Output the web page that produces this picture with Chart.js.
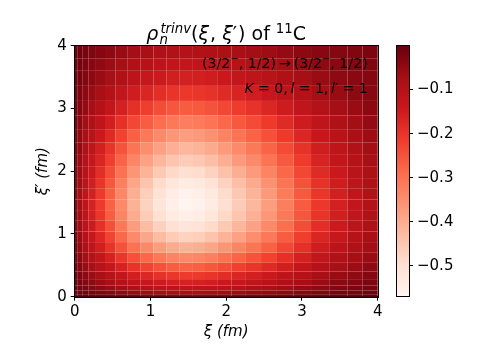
<!DOCTYPE html>
<html>
<head>
<meta charset="utf-8">
<script src="https://cdn.jsdelivr.net/npm/chart.js@4.4.1/dist/chart.umd.min.js"></script>
<style>
  body { margin: 0; background: #fff; }
  #wrap { position: relative; width: 477px; height: 358px; }
  #wrap canvas { position: absolute; top: 0; }
</style>
</head>
<body>
<div id="wrap">
  <canvas id="mapChart" width="477" height="358" style="left:0"></canvas>
  <canvas id="barChart" width="97" height="358" style="left:380px"></canvas>
</div>
<script>
// cell edges of the mesh (fm), denser near the origin
const xiEdges = [0, 0.04, 0.1, 0.18, 0.28, 0.4, 0.54, 0.7, 0.87, 1.04, 1.21, 1.38, 1.55, 1.72, 1.89, 2.07, 2.26, 2.46, 2.67, 2.89, 3.12, 3.36, 3.6, 3.8, 4.0];
const xipEdges = [0, 0.04, 0.1, 0.18, 0.28, 0.4, 0.54, 0.7, 0.87, 1.04, 1.21, 1.38, 1.55, 1.72, 1.89, 2.07, 2.26, 2.46, 2.67, 2.89, 3.12, 3.36, 3.6, 3.8, 4.0];

// rho values, one row per xi' cell (bottom to top), one column per xi cell
const rho = [
  [-0.001,-0.005,-0.008,-0.011,-0.015,-0.019,-0.024,-0.029,-0.033,-0.036,-0.038,-0.040,-0.039,-0.037,-0.035,-0.032,-0.029,-0.026,-0.022,-0.018,-0.015,-0.011,-0.009,-0.007],
  [-0.005,-0.010,-0.016,-0.021,-0.028,-0.035,-0.044,-0.053,-0.061,-0.067,-0.071,-0.074,-0.073,-0.070,-0.065,-0.060,-0.055,-0.049,-0.042,-0.034,-0.027,-0.021,-0.016,-0.013],
  [-0.008,-0.016,-0.025,-0.034,-0.045,-0.057,-0.071,-0.086,-0.099,-0.108,-0.115,-0.119,-0.117,-0.112,-0.105,-0.096,-0.088,-0.078,-0.067,-0.055,-0.043,-0.033,-0.026,-0.020],
  [-0.011,-0.021,-0.034,-0.046,-0.061,-0.077,-0.097,-0.117,-0.134,-0.147,-0.157,-0.161,-0.159,-0.152,-0.142,-0.131,-0.119,-0.107,-0.091,-0.075,-0.059,-0.045,-0.036,-0.027],
  [-0.015,-0.028,-0.045,-0.061,-0.080,-0.102,-0.127,-0.154,-0.176,-0.193,-0.206,-0.212,-0.209,-0.201,-0.187,-0.172,-0.157,-0.140,-0.120,-0.099,-0.078,-0.059,-0.047,-0.036],
  [-0.019,-0.035,-0.057,-0.077,-0.102,-0.130,-0.163,-0.197,-0.226,-0.247,-0.264,-0.272,-0.268,-0.257,-0.239,-0.220,-0.201,-0.179,-0.154,-0.126,-0.099,-0.076,-0.060,-0.046],
  [-0.024,-0.044,-0.071,-0.097,-0.127,-0.163,-0.204,-0.246,-0.282,-0.309,-0.329,-0.340,-0.335,-0.321,-0.299,-0.275,-0.251,-0.224,-0.192,-0.158,-0.124,-0.095,-0.075,-0.058],
  [-0.029,-0.053,-0.086,-0.117,-0.154,-0.197,-0.246,-0.298,-0.341,-0.374,-0.398,-0.410,-0.404,-0.388,-0.361,-0.332,-0.304,-0.271,-0.232,-0.191,-0.150,-0.115,-0.090,-0.070],
  [-0.033,-0.061,-0.099,-0.134,-0.176,-0.226,-0.282,-0.341,-0.390,-0.428,-0.456,-0.470,-0.463,-0.444,-0.413,-0.381,-0.348,-0.310,-0.265,-0.218,-0.172,-0.132,-0.103,-0.080],
  [-0.036,-0.067,-0.108,-0.147,-0.193,-0.247,-0.309,-0.373,-0.428,-0.469,-0.500,-0.515,-0.507,-0.487,-0.453,-0.417,-0.381,-0.340,-0.291,-0.240,-0.188,-0.144,-0.113,-0.088],
  [-0.038,-0.071,-0.115,-0.157,-0.206,-0.264,-0.329,-0.398,-0.456,-0.500,-0.533,-0.549,-0.541,-0.519,-0.483,-0.445,-0.406,-0.362,-0.310,-0.255,-0.200,-0.154,-0.121,-0.093],
  [-0.040,-0.074,-0.119,-0.161,-0.212,-0.272,-0.340,-0.410,-0.470,-0.515,-0.549,-0.568,-0.558,-0.535,-0.498,-0.459,-0.419,-0.374,-0.320,-0.263,-0.207,-0.159,-0.125,-0.096],
  [-0.039,-0.073,-0.117,-0.159,-0.209,-0.268,-0.335,-0.404,-0.463,-0.507,-0.541,-0.558,-0.549,-0.527,-0.491,-0.452,-0.413,-0.368,-0.315,-0.259,-0.204,-0.156,-0.123,-0.095],
  [-0.037,-0.070,-0.112,-0.152,-0.201,-0.257,-0.321,-0.388,-0.444,-0.487,-0.519,-0.535,-0.527,-0.506,-0.471,-0.433,-0.396,-0.353,-0.302,-0.249,-0.195,-0.150,-0.118,-0.091],
  [-0.035,-0.065,-0.105,-0.142,-0.187,-0.239,-0.299,-0.361,-0.413,-0.453,-0.483,-0.498,-0.491,-0.471,-0.438,-0.404,-0.369,-0.329,-0.281,-0.232,-0.182,-0.140,-0.110,-0.085],
  [-0.032,-0.060,-0.096,-0.131,-0.172,-0.220,-0.275,-0.332,-0.381,-0.417,-0.445,-0.459,-0.452,-0.433,-0.404,-0.371,-0.339,-0.303,-0.259,-0.213,-0.167,-0.128,-0.101,-0.078],
  [-0.029,-0.054,-0.088,-0.119,-0.157,-0.201,-0.251,-0.304,-0.348,-0.381,-0.406,-0.419,-0.413,-0.396,-0.369,-0.339,-0.310,-0.276,-0.237,-0.195,-0.153,-0.117,-0.092,-0.071],
  [-0.026,-0.049,-0.078,-0.107,-0.140,-0.179,-0.224,-0.271,-0.310,-0.340,-0.362,-0.374,-0.368,-0.353,-0.329,-0.303,-0.276,-0.247,-0.211,-0.174,-0.136,-0.105,-0.082,-0.064],
  [-0.022,-0.042,-0.067,-0.091,-0.120,-0.154,-0.192,-0.232,-0.265,-0.291,-0.310,-0.320,-0.315,-0.302,-0.281,-0.259,-0.237,-0.211,-0.181,-0.149,-0.117,-0.090,-0.070,-0.054],
  [-0.018,-0.034,-0.055,-0.075,-0.099,-0.126,-0.158,-0.191,-0.218,-0.240,-0.255,-0.263,-0.259,-0.249,-0.232,-0.213,-0.195,-0.174,-0.149,-0.122,-0.096,-0.074,-0.058,-0.045],
  [-0.015,-0.027,-0.043,-0.059,-0.078,-0.099,-0.124,-0.150,-0.172,-0.188,-0.200,-0.207,-0.204,-0.195,-0.182,-0.167,-0.153,-0.136,-0.117,-0.096,-0.075,-0.058,-0.046,-0.038],
  [-0.011,-0.021,-0.033,-0.045,-0.059,-0.076,-0.095,-0.115,-0.132,-0.144,-0.154,-0.159,-0.156,-0.150,-0.140,-0.128,-0.117,-0.105,-0.090,-0.074,-0.058,-0.046,-0.040,-0.034],
  [-0.009,-0.016,-0.026,-0.036,-0.047,-0.060,-0.075,-0.090,-0.103,-0.113,-0.121,-0.125,-0.123,-0.118,-0.110,-0.101,-0.092,-0.082,-0.070,-0.058,-0.046,-0.040,-0.034,-0.030],
  [-0.007,-0.013,-0.020,-0.027,-0.036,-0.046,-0.058,-0.070,-0.080,-0.088,-0.093,-0.096,-0.095,-0.091,-0.085,-0.078,-0.071,-0.064,-0.054,-0.045,-0.038,-0.034,-0.030,-0.026]
];

const axisTicks = [0, 1, 2, 3, 4];
const cbarTicks = [-0.5, -0.4, -0.3, -0.2, -0.1];

const vMin = Math.min(...rho.flat());
const vMax = Math.max(...rho.flat());

// matplotlib "Reds"
const redsStops = ['#fff5f0', '#fee0d2', '#fcbba1', '#fc9272', '#fb6a4a', '#ef3b2c', '#cb181d', '#a50f15', '#67000d'];
const redsRgb = redsStops.map(c => [1, 3, 5].map(k => parseInt(c.substr(k, 2), 16)));
function reds(t) {
    t = Math.min(1, Math.max(0, t));
    const p = t * 8;
    const k = Math.min(7, Math.floor(p));
    const f = p - k;
    const a = redsRgb[k], b = redsRgb[k + 1];
    return 'rgb(' + a.map((v, n) => Math.round(v + (b[n] - v) * f)).join(',') + ')';
}

const FONT = '"DejaVu Sans"';
Chart.defaults.font.family = FONT;
Chart.defaults.color = '#000';

// texte avec indices / exposants
function fontOf(p, size) {
    return (p.it ? 'italic ' : '') + (size * (p.s || 1)) + 'px ' + FONT;
}
function drawRich(ctx, parts, x, y, size, align) {
    const widths = parts.map(p => {
        if (p.sub !== undefined) {
            ctx.font = fontOf({ it: true, s: 0.7 }, size);
            return Math.max(ctx.measureText(p.sub).width, ctx.measureText(p.sup).width) + 1;
        }
        ctx.font = fontOf(p, size);
        return ctx.measureText(p.t).width + (p.gap || 0);
    });
    const total = widths.reduce((a, b) => a + b, 0);
    let cx = align === 'right' ? x - total : align === 'center' ? x - total / 2 : x;
    ctx.textAlign = 'left';
    ctx.textBaseline = 'alphabetic';
    ctx.fillStyle = '#000';
    parts.forEach((p, k) => {
        if (p.sub !== undefined) {
            ctx.font = fontOf({ it: true, s: 0.7 }, size);
            ctx.fillText(p.sub, cx, y + size * 0.19);
            ctx.fillText(p.sup, cx + 1, y - size * 0.39);
        } else {
            ctx.font = fontOf(p, size);
            ctx.fillText(p.t, cx, y + (p.dy || 0) * size);
        }
        cx += widths[k];
    });
}

const titleParts = [
    { t: 'ρ', it: 1, gap: 1 }, { sub: 'n', sup: 'trinv' }, { t: '(' }, { t: 'ξ', it: 1, gap: 1 }, { t: ', ' },
    { t: 'ξ', it: 1 }, { t: '′', gap: 1 }, { t: ')' }, { t: ' of ' }, { t: '11', s: 0.7, dy: -0.39 }, { t: 'C' }
];
const stateParts = [
    { t: '(3/2' }, { t: '−', s: 0.7, dy: -0.4 }, { t: ', 1/2)' }, { t: '\u2009→\u2009' },
    { t: '(3/2' }, { t: '−', s: 0.7, dy: -0.4 }, { t: ', 1/2)' }
];
const quantParts = [
    { t: 'K', it: 1 }, { t: ' = 0,\u2009' }, { t: 'l', it: 1 }, { t: ' = 1,\u2009' }, { t: 'l', it: 1 }, { t: '′' }, { t: ' = 1' }
];

const heatPlugin = {
    id: 'heat',
    beforeDatasetsDraw(chart) {
        const { ctx, scales: { x, y } } = chart;
        ctx.save();
        rho.forEach((row, j) => {
            row.forEach((v, i) => {
                const x0 = x.getPixelForValue(xiEdges[i]);
                const x1 = x.getPixelForValue(xiEdges[i + 1]);
                const y0 = y.getPixelForValue(xipEdges[j + 1]);
                const y1 = y.getPixelForValue(xipEdges[j]);
                ctx.fillStyle = reds((v - vMin) / (vMax - vMin));
                ctx.fillRect(x0, y0, x1 - x0, y1 - y0);
            });
        });
        ctx.restore();
    },
    afterDatasetsDraw(chart) {
        const { ctx, chartArea: a } = chart;
        ctx.save();
        ctx.strokeStyle = '#000';
        ctx.lineWidth = 1;
        ctx.strokeRect(Math.round(a.left) - 0.5, Math.round(a.top) - 0.5, Math.round(a.right - a.left) + 1, Math.round(a.bottom - a.top) + 1);
        drawRich(ctx, titleParts, (a.left + a.right) / 2, 40, 19, 'center');
        drawRich(ctx, stateParts, a.right - 10, 67.5, 14.2, 'right');
        drawRich(ctx, quantParts, a.right - 10, 92.5, 14, 'right');
        ctx.restore();
    }
};

new Chart(document.getElementById('mapChart'), {
    type: 'scatter',
    data: { datasets: [{ label: 'rho', data: [], pointRadius: 0 }] },
    options: {
        responsive: false,
        animation: false,
        layout: { padding: { left: 0, right: 99.3, top: 45.7, bottom: 0 } },
        plugins: { legend: { display: false }, tooltip: { enabled: false } },
        scales: {
            x: {
                type: 'linear', min: 0, max: 4,
                afterBuildTicks: s => { s.ticks = axisTicks.map(v => ({ value: v })); },
                afterFit: s => { s.height = 61.3; },
                ticks: { font: { size: 15 }, padding: 2, maxRotation: 0 },
                grid: { drawOnChartArea: false, tickLength: 4, color: '#000' },
                border: { color: '#000', width: 1 },
                title: { display: true, text: 'ξ (fm)', font: { size: 15, style: 'italic' }, padding: { top: 0, bottom: 17 } }
            },
            y: {
                type: 'linear', min: 0, max: 4,
                afterBuildTicks: s => { s.ticks = axisTicks.map(v => ({ value: v })); },
                afterFit: s => { s.width = 74.7; },
                ticks: { font: { size: 15 }, padding: 4 },
                grid: { drawOnChartArea: false, tickLength: 4, color: '#000' },
                border: { color: '#000', width: 1 },
                title: { display: true, text: 'ξ′ (fm)', font: { size: 15, style: 'italic' }, padding: { top: 34, bottom: 0 } }
            }
        }
    },
    plugins: [heatPlugin]
});

// barre de couleur
const cbarPlugin = {
    id: 'cbar',
    beforeDatasetsDraw(chart) {
        const { ctx, chartArea: a } = chart;
        const g = ctx.createLinearGradient(0, a.bottom, 0, a.top);
        redsStops.forEach((c, k) => g.addColorStop(k / 8, c));
        ctx.save();
        ctx.fillStyle = g;
        ctx.fillRect(a.left, a.top, a.right - a.left, a.bottom - a.top);
        ctx.strokeStyle = '#000';
        ctx.lineWidth = 1;
        ctx.strokeRect(Math.round(a.left) - 0.5, Math.round(a.top) - 0.5, Math.round(a.right - a.left) + 1, Math.round(a.bottom - a.top) + 1);
        ctx.restore();
    }
};

new Chart(document.getElementById('barChart'), {
    type: 'scatter',
    data: { datasets: [{ label: 'cbar', data: [], pointRadius: 0 }] },
    options: {
        responsive: false,
        animation: false,
        layout: { padding: { left: 17, right: 0, top: 46, bottom: 62.3 } },
        plugins: { legend: { display: false }, tooltip: { enabled: false } },
        scales: {
            x: { display: false, min: 0, max: 1 },
            y: {
                type: 'linear', position: 'right', min: vMin, max: vMax,
                afterBuildTicks: s => { s.ticks = cbarTicks.map(v => ({ value: v })); },
                afterFit: s => { s.width = 68; },
                ticks: { font: { size: 15 }, padding: 4, callback: v => '−' + Math.abs(v).toFixed(1) },
                grid: { drawOnChartArea: false, tickLength: 4, color: '#000' },
                border: { display: false }
            }
        }
    },
    plugins: [cbarPlugin]
});
</script>
</body>
</html>
